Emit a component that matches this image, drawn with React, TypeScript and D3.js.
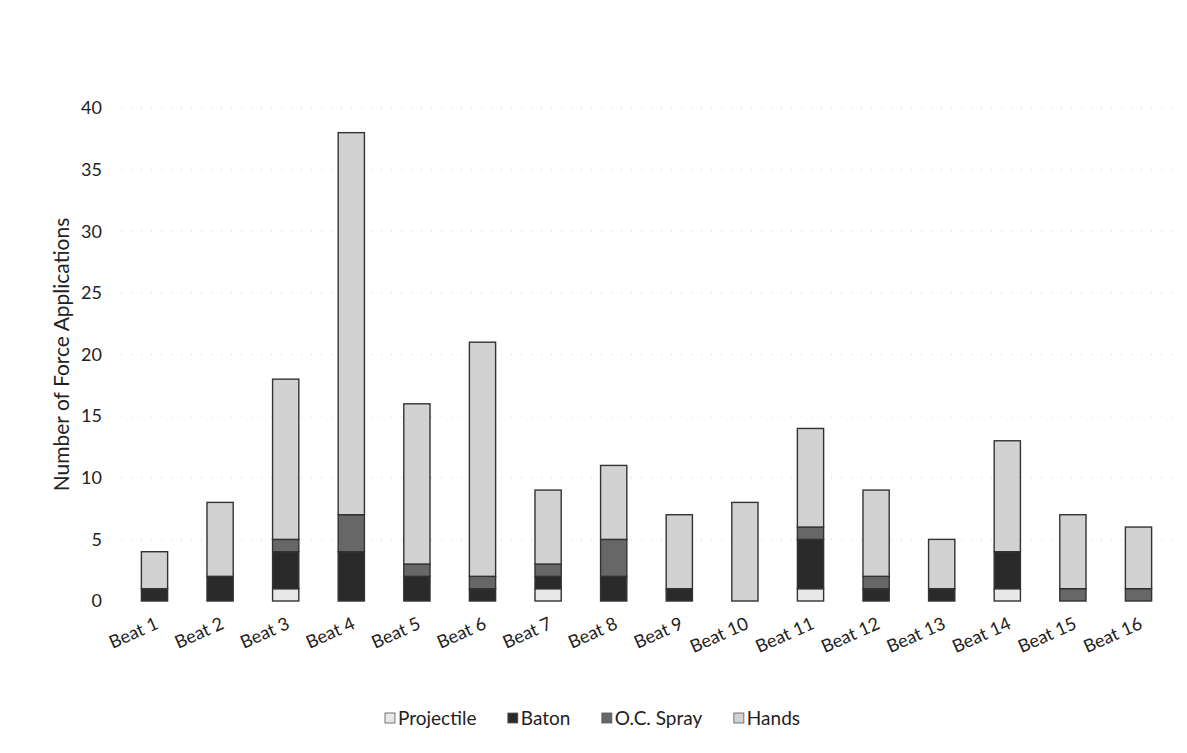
import React, { useEffect, useRef } from "react";
import * as d3 from "d3";

const beats = ["Beat 1", "Beat 2", "Beat 3", "Beat 4", "Beat 5", "Beat 6", "Beat 7", "Beat 8", "Beat 9", "Beat 10", "Beat 11", "Beat 12", "Beat 13", "Beat 14", "Beat 15", "Beat 16"];
const projectile = [0, 0, 1, 0, 0, 0, 1, 0, 0, 0, 1, 0, 0, 1, 0, 0];
const baton = [1, 2, 3, 4, 2, 1, 1, 2, 1, 0, 4, 1, 1, 3, 0, 0];
const ocSpray = [0, 0, 1, 3, 1, 1, 1, 3, 0, 0, 1, 1, 0, 0, 1, 1];
const hands = [3, 6, 13, 31, 13, 19, 6, 6, 6, 8, 8, 7, 4, 9, 6, 5];
const yTicks = [0, 5, 10, 15, 20, 25, 30, 35, 40];
const seriesNames = ["Projectile", "Baton", "O.C. Spray", "Hands"];
const seriesColors = ["#e8e8e8", "#2a2a2a", "#676767", "#d2d2d2"];
const yTitle = "Number of Force Applications";

const FONT = "Lato, 'Open Sans', sans-serif";

export default function App() {
  const ref = useRef<SVGSVGElement>(null);

  useEffect(() => {
    const svg = d3.select(ref.current);
    svg.selectAll("*").remove();

    const x = d3.scaleBand<string>().domain(beats).range([121.7, 1171.3]).paddingInner(0.6).paddingOuter(0.3);
    const y = d3.scaleLinear().domain([0, 40]).range([601, 108]);

    const rows = beats.map((b, i) => ({
      beat: b,
      "Projectile": projectile[i],
      "Baton": baton[i],
      "O.C. Spray": ocSpray[i],
      "Hands": hands[i],
    }));
    const stack = d3.stack<any>().keys(seriesNames)(rows);
    const color = d3.scaleOrdinal<string, string>().domain(seriesNames).range(seriesColors);

    // grid
    svg.append("g")
      .selectAll("line")
      .data(yTicks.filter((t) => t > 0))
      .join("line")
      .attr("x1", 121)
      .attr("x2", 1172)
      .attr("y1", (d) => y(d))
      .attr("y2", (d) => y(d))
      .attr("stroke", "#d0d0d0")
      .attr("stroke-width", 1)
      .attr("stroke-dasharray", "1,9");

    // y tick labels
    svg.append("g")
      .selectAll("text")
      .data(yTicks)
      .join("text")
      .attr("x", 102)
      .attr("y", (d) => y(d))
      .attr("dy", "0.35em")
      .attr("text-anchor", "end")
      .attr("font-family", FONT)
      .attr("font-size", 18)
      .attr("fill", "#222")
      .text((d) => String(d));

    // y title
    svg.append("text")
      .attr("transform", `translate(62,${(y(0) + y(40)) / 2}) rotate(-90)`)
      .attr("text-anchor", "middle")
      .attr("dy", "0.35em")
      .attr("font-family", FONT)
      .attr("font-size", 21)
      .attr("fill", "#222")
      .text(yTitle);

    // bars
    svg.append("g")
      .selectAll("g")
      .data(stack)
      .join("g")
      .attr("fill", (s) => color(s.key))
      .selectAll("rect")
      .data((s) => s.filter((d) => d[1] - d[0] > 0))
      .join("rect")
      .attr("x", (d: any) => x(d.data.beat)!)
      .attr("width", x.bandwidth())
      .attr("y", (d) => y(d[1]))
      .attr("height", (d) => y(d[0]) - y(d[1]))
      .attr("stroke", "#333")
      .attr("stroke-width", 1.4);

    // x labels
    svg.append("g")
      .selectAll("text")
      .data(beats)
      .join("text")
      .attr("transform", (d) => `translate(${x(d)! + x.bandwidth() / 2 + 5},628) rotate(-24)`)
      .attr("text-anchor", "end")
      .attr("font-family", FONT)
      .attr("font-size", 18)
      .attr("fill", "#222")
      .text((d) => d);

    // legend
    const lg = svg.append("g");
    const items = lg.selectAll("g").data(seriesNames).join("g");
    items.append("rect")
      .attr("width", 10)
      .attr("height", 10)
      .attr("y", -5)
      .attr("fill", (d) => color(d))
      .attr("stroke", "#555")
      .attr("stroke-width", 0.8);
    items.append("text")
      .attr("x", 13)
      .attr("dy", "0.35em")
      .attr("font-family", FONT)
      .attr("font-size", 19)
      .attr("fill", "#222")
      .text((d) => d);
    const widths: number[] = [];
    items.each(function () {
      widths.push((this as SVGGElement).getBBox().width);
    });
    const left = 385;
    const right = 800;
    const gap = (right - left - d3.sum(widths)) / (widths.length - 1);
    let cx = left;
    items.attr("transform", (_d, i) => {
      const t = `translate(${cx},718)`;
      cx += widths[i] + gap;
      return t;
    });
  }, []);

  return (
    <svg
      ref={ref}
      width={1187}
      height={753}
      style={{ position: "absolute", left: 0, top: 0, background: "#fff" }}
    />
  );
}
